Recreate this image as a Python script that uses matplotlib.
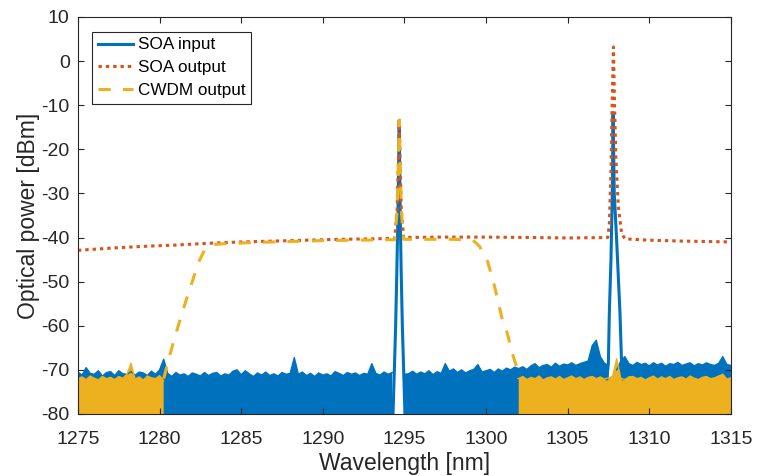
import numpy as np
import matplotlib
matplotlib.use("Agg")
import matplotlib.pyplot as plt

plt.rcParams['font.family'] = ['Liberation Sans', 'DejaVu Sans']
plt.rcParams['axes.unicode_minus'] = False

BLUE = '#0072BD'
ORANGE = '#D95319'
YELLOW = '#EDB120'
DARK = '#262626'

# noise floor, upper envelope read every 0.25 nm from 1275 to 1315 nm
noise_wl = np.arange(1275, 1315.001, 0.25)
soa_in_floor = [
    -70.5, -71.2, -69.5, -70.8,   # 1275
    -71.0, -70.2, -71.4, -70.6,   # 1276
    -70.4, -71.3, -70.2, -70.9,   # 1277
    -71.0, -70.4, -71.2, -70.5,   # 1278
    -70.7, -71.3, -70.3, -71.0,   # 1279
    -70.0, -67.6, -70.8, -71.5,   # 1280
    -70.6, -71.2, -70.9, -71.5,   # 1281
    -70.7, -71.0, -71.4, -70.6,   # 1282
    -71.3, -70.8, -70.6, -71.4,   # 1283
    -70.9, -71.2, -70.3, -70.0,   # 1284
    -71.1, -70.2, -70.9, -71.5,   # 1285
    -70.7, -71.2, -70.5, -71.3,   # 1286
    -70.9, -71.4, -70.6, -71.0,   # 1287
    -70.8, -67.2, -71.0, -70.5,   # 1288
    -71.3, -70.8, -71.5, -70.7,   # 1289
    -71.2, -70.9, -71.4, -70.4,   # 1290
    -70.8, -71.3, -70.6, -71.0,   # 1291
    -70.7, -71.3, -70.8, -71.0,   # 1292
    -68.6, -70.8, -71.2, -70.5,   # 1293
    -71.0, -70.6, np.nan, np.nan,  # 1294
    -71.0, -70.9, -70.3, -71.0,   # 1295
    -70.5, -70.9, -70.2, -71.1,   # 1296
    -70.4, -70.8, -68.6, -70.3,   # 1297
    -69.8, -70.6, -70.0, -70.7,   # 1298
    -70.2, -69.9, -68.8, -70.5,   # 1299
    -70.2, -69.9, -70.6, -69.8,   # 1300
    -70.3, -69.6, -70.0, -69.4,   # 1301
    -69.7, -69.3, -69.9, -69.1,   # 1302
    -68.6, -69.5, -69.0, -68.8,   # 1303
    -69.4, -68.5, -69.2, -68.7,   # 1304
    -68.9, -68.4, -69.0, -68.6,   # 1305
    -68.3, -68.0, -64.5, -63.3,   # 1306
    -67.0, -68.5, -69.0, np.nan,  # 1307
    -70.0, -68.0, -67.0, -68.6,   # 1308
    -69.0, -68.3, -68.8, -68.5,   # 1309
    -69.1, -68.4, -68.9, -68.5,   # 1310
    -69.2, -68.6, -68.8, -68.3,   # 1311
    -69.0, -68.7, -68.4, -69.1,   # 1312
    -68.6, -68.9, -68.4, -68.8,   # 1313
    -69.0, -68.5, -67.0, -68.8,   # 1314
    -69.0,                        # 1315
]
cwdm_floor = [
    -72.0, -71.6, -72.2, -71.4,   # 1275
    -71.9, -72.3, -71.5, -72.0,   # 1276
    -71.7, -72.2, -71.5, -71.9,   # 1277
    -71.0, -68.5, -72.1, -71.6,   # 1278
    -72.3, -71.4, -71.8, -72.0,   # 1279
    -71.3, -72.5] + [np.nan] * 86 + [
    -72.0, -71.5, -72.2, -71.7,   # 1302
    -72.0, -71.4, -72.3, -71.8,   # 1303
    -71.6, -72.1, -71.5, -72.2,   # 1304
    -71.8, -71.4, -72.0, -71.6,   # 1305
    -72.2, -71.7, -71.5, -72.0,   # 1306
    -71.6, -72.1, -71.8, -71.5,   # 1307
    -67.5, -71.9, -72.2, -71.6,   # 1308
    -71.5, -72.0, -71.7, -72.3,   # 1309
    -71.8, -71.4, -72.1, -71.6,   # 1310
    -72.0, -71.5, -72.2, -71.8,   # 1311
    -71.6, -72.1, -71.4, -71.9,   # 1312
    -72.2, -71.7, -71.5, -72.0,   # 1313
    -71.8, -71.4, -71.0, -72.1,   # 1314
    -71.8,                        # 1315
]

# SOA input signal peaks (above the noise floor)
soa_in_peak1_wl = [1294.30, 1294.38, 1294.46, 1294.53, 1294.60, 1294.68,
                   1294.74, 1294.80, 1294.87, 1294.95, 1295.03]
soa_in_peak1_db = [-80, -70, -60, -48, -35, -13.5, -35, -48, -60, -70, -80]
soa_in_peak2_wl = [1307.40, 1307.49, 1307.55, 1307.65, 1307.73, 1307.78,
                   1307.85, 1307.99, 1308.20, 1308.30, 1308.40]
soa_in_peak2_db = [-72, -68.5, -57, -45, -30, -11.8, -30, -40, -57, -68.5, -72]

# SOA output (ASE level plus amplified signals)
soa_out_wl = [1275, 1277, 1279, 1281, 1283, 1285, 1287, 1289, 1291, 1293,
              1294.40, 1294.55, 1294.62, 1294.68, 1294.74, 1294.81, 1294.95,
              1297, 1300, 1303, 1305, 1307.45, 1307.55, 1307.65, 1307.72,
              1307.80, 1307.87, 1307.95, 1308.10, 1308.30, 1308.50,
              1310, 1312, 1313.5, 1315]
soa_out_db = [-42.9, -42.4, -42.0, -41.7, -41.3, -41.0, -40.8, -40.6, -40.4, -40.3,
              -40.2, -34, -24, -13.4, -24, -34, -40.0,
              -39.9, -39.9, -40.0, -40.1, -40.0, -37, -25, -10,
              3.2, -10, -22, -33, -39, -40.3,
              -40.6, -40.8, -40.9, -41.0]

# CWDM output (filter passband)
cwdm_wl = [1280.25, 1280.6, 1280.9, 1281.25, 1281.6, 1282.0, 1282.4, 1282.8,
           1283.3, 1284, 1286, 1288, 1290, 1292, 1294.0,
           1294.40, 1294.55, 1294.62, 1294.68, 1294.74, 1294.81, 1294.95,
           1296, 1298, 1299.2, 1299.6, 1300.1, 1300.5, 1301.0, 1301.3,
           1301.6, 1301.9, 1302.0]
cwdm_db = [-72, -67, -63, -58.7, -54.5, -50, -45.5, -42.5,
           -41.6, -41.4, -41.1, -40.9, -40.7, -40.6, -40.5,
           -40.5, -34, -24, -13.4, -24, -34, -40.4,
           -40.4, -40.4, -40.6, -42, -45.5, -50.8, -58.7, -61.7,
           -66.2, -69.6, -72]

fig = plt.figure(figsize=(7.57, 4.76), dpi=100)
ax = fig.add_axes([0.1030, 0.1303, 0.8626, 0.8340])

floor = -85
ax.fill_between(noise_wl, floor, soa_in_floor, color=BLUE, linewidth=0)
ax.plot(noise_wl, soa_in_floor, color=BLUE, lw=1.0)
l1, = ax.plot(soa_in_peak1_wl, soa_in_peak1_db, color=BLUE, lw=2.2, label='SOA input')
ax.plot(soa_in_peak2_wl, soa_in_peak2_db, color=BLUE, lw=2.2)

l2, = ax.plot(soa_out_wl, soa_out_db, color=ORANGE, lw=2.2,
              linestyle=(0, (1.1, 1.3)), label='SOA output')

ax.fill_between(noise_wl, floor, cwdm_floor, color=YELLOW, linewidth=0)
ax.plot(noise_wl, cwdm_floor, color=YELLOW, lw=1.0)
l3, = ax.plot(cwdm_wl, cwdm_db, color=YELLOW, lw=2.2,
              linestyle=(0, (4, 4)), label='CWDM output')

ax.set_xlim(1275, 1315)
ax.set_ylim(-80, 10)
ax.set_xticks(np.arange(1275, 1316, 5))
ax.set_yticks(np.arange(-80, 11, 10))

ax.tick_params(direction='in', top=True, right=True, length=4, width=0.8,
               colors=DARK, labelsize=14)
ax.tick_params(axis='x', pad=12)
ax.tick_params(axis='y', pad=6)
for s in ax.spines.values():
    s.set_color(DARK)
    s.set_linewidth(0.8)

ax.set_xlabel('Wavelength [nm]', fontsize=16.5, color=DARK, labelpad=3)
ax.set_ylabel('Optical power [dBm]', fontsize=16.5, color=DARK, labelpad=1)

leg = ax.legend(handles=[l1, l2, l3], loc='upper left', fontsize=12.3,
                fancybox=False, framealpha=1, edgecolor=DARK,
                handlelength=2.0, handletextpad=0.3, borderaxespad=0.85,
                borderpad=0.35, labelspacing=0.45)
leg.get_frame().set_linewidth(0.8)

fig.savefig('out.png', dpi=100)
